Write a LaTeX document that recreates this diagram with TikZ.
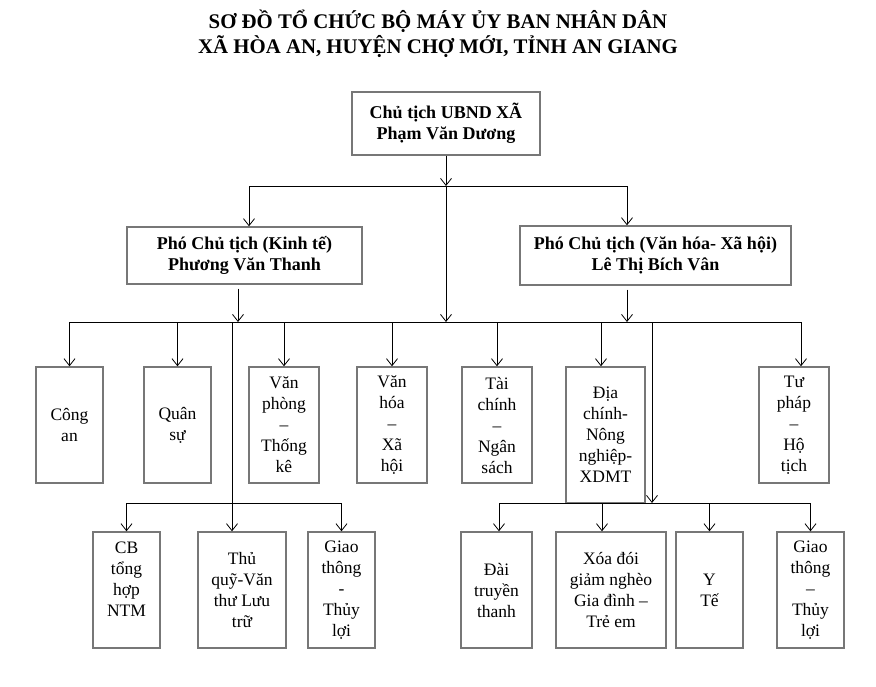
\documentclass[tikz,border=0pt]{standalone}
\usepackage{fontspec}
\setmainfont{Liberation Serif}
\usetikzlibrary{arrows.meta}
\definecolor{boxgray}{HTML}{777777}
\tikzset{
  box/.style={draw=boxgray, line width=1.4pt, align=center, inner sep=0pt,
    font=\fontsize{17.5}{21}\selectfont},
  bbox/.style={box, font=\bfseries\fontsize{18}{21.5}\selectfont},
  conn/.style={draw=black, line width=0.8pt},
  arr/.style={conn, -{Straight Barb[length=7pt,width=11pt]}}
}
\begin{document}
\begin{tikzpicture}[x=1pt,y=-1pt]
\useasboundingbox (0,0) rectangle (876,686);
\node[align=center, font=\bfseries\fontsize{20.8}{25}\selectfont] (title) at (438,34)
  {SƠ ĐỒ TỔ CHỨC BỘ MÁY ỦY BAN NHÂN DÂN\\XÃ HÒA AN, HUYỆN CHỢ MỚI, TỈNH AN GIANG};

\node[bbox, minimum width=188pt, minimum height=63pt] (ct) at (446,123.5) {Chủ tịch UBND XÃ\\Phạm Văn Dương};
\node[bbox, minimum width=235pt, minimum height=57pt] (pk) at (244.5,255.5) {Phó Chủ tịch (Kinh tế)\\Phương Văn Thanh};
\node[bbox, minimum width=271pt, minimum height=59pt] (pv) at (655.5,255.5) {Phó Chủ tịch (Văn hóa- Xã hội)\\Lê Thị Bích Vân};

% top row
\node[box, minimum width=67pt, minimum height=116pt] (ca) at (69.5,425) {Công\\an};
\node[box, minimum width=67pt, minimum height=116pt] (qs) at (177.5,425) {Quân\\sự};
\node[box, minimum width=70pt, minimum height=116pt] (vp) at (284,425) {Văn\\phòng\\–\\Thống\\kê};
\node[box, minimum width=70pt, minimum height=116pt] (vh) at (392,425) {Văn\\hóa\\–\\Xã\\hội};
\node[box, minimum width=70pt, minimum height=116pt] (tc) at (497,425) {Tài\\chính\\–\\Ngân\\sách};
\node[box, minimum width=79pt, minimum height=136pt] (dc) at (605.5,435) {Địa\\chính-\\Nông\\nghiệp-\\XDMT};
\node[box, minimum width=70pt, minimum height=116pt] (tp) at (794,425) {Tư\\pháp\\–\\Hộ\\tịch};

% bottom row
\node[box, minimum width=67pt, minimum height=116pt] (cb) at (126.5,590) {CB\\tổng\\hợp\\NTM\\\mbox{}};
\node[box, minimum width=88pt, minimum height=116pt] (tq) at (242,590) {Thủ\\quỹ-Văn\\thư Lưu\\trữ};
\node[box, minimum width=67pt, minimum height=116pt] (gt1) at (341.5,590) {Giao\\thông\\-\\Thủy\\lợi};
\node[box, minimum width=71pt, minimum height=116pt] (dt) at (496.5,590) {Đài\\truyền\\thanh};
\node[box, minimum width=110pt, minimum height=116pt] (xd) at (611,590) {Xóa đói\\giảm nghèo\\Gia đình –\\Trẻ em};
\node[box, minimum width=67pt, minimum height=116pt] (yt) at (709.5,590) {Y\\Tế};
\node[box, minimum width=67pt, minimum height=116pt] (gt2) at (810.5,590) {Giao\\thông\\–\\Thủy\\lợi};

% connectors level 1
\coordinate (j1) at (446,186);
\coordinate (j1L) at (249,186);
\coordinate (j1R) at (627,186);
\draw[arr] (ct.south) -- (j1);
\draw[conn] (j1L) -- (j1R);
\draw[arr] (j1L) -- (j1L |- pk.north);
\draw[arr] (j1R) -- (j1R |- pv.north);

% level 2
\coordinate (hL) at (69,322);
\coordinate (hR) at (801,322);
\coordinate (h2) at (446,322);
\draw[arr] (j1) -- (h2);
\draw[conn] (hL) -- (hR);
\draw[arr] ([xshift=-6.5pt,yshift=-4pt]pk.south) -- ([xshift=-6.5pt]pk.south |- h2);
\draw[arr] ([xshift=-28.5pt,yshift=-4pt]pv.south) -- ([xshift=-28.5pt]pv.south |- h2);
\draw[arr] (ca.north |- hL) -- (ca.north);
\draw[arr] (qs.north |- hL) -- (qs.north);
\draw[arr] (vp.north |- hL) -- (vp.north);
\draw[arr] (vh.north |- hL) -- (vh.north);
\draw[arr] (tc.north |- hL) -- (tc.north);
\draw[arr] ([xshift=-4.5pt]dc.north |- hL) -- ([xshift=-4.5pt]dc.north);
\draw[arr] ([xshift=7pt]tp.north |- hL) -- ([xshift=7pt]tp.north);

% left lower branch
\coordinate (vL) at (232,322);
\coordinate (bL) at (232,503);
\draw[arr] (vL) -- (vL |- tq.north);
\draw[conn] (cb.north |- bL) -- (gt1.north |- bL);
\draw[arr] (cb.north |- bL) -- (cb.north);
\draw[arr] (gt1.north |- bL) -- (gt1.north);

% right lower branch
\coordinate (vR) at (652,322);
\coordinate (bR) at (652,503);
\draw[arr] (vR) -- (bR);
\draw[conn] ([xshift=2.5pt]dt.north |- bR) -- (gt2.north |- bR);
\draw[arr] ([xshift=2.5pt]dt.north |- bR) -- ([xshift=2.5pt]dt.north);
\draw[arr] ([xshift=-9pt]xd.north |- bR) -- ([xshift=-9pt]xd.north);
\draw[arr] (yt.north |- bR) -- (yt.north);
\draw[arr] (gt2.north |- bR) -- (gt2.north);
\end{tikzpicture}
\end{document}
